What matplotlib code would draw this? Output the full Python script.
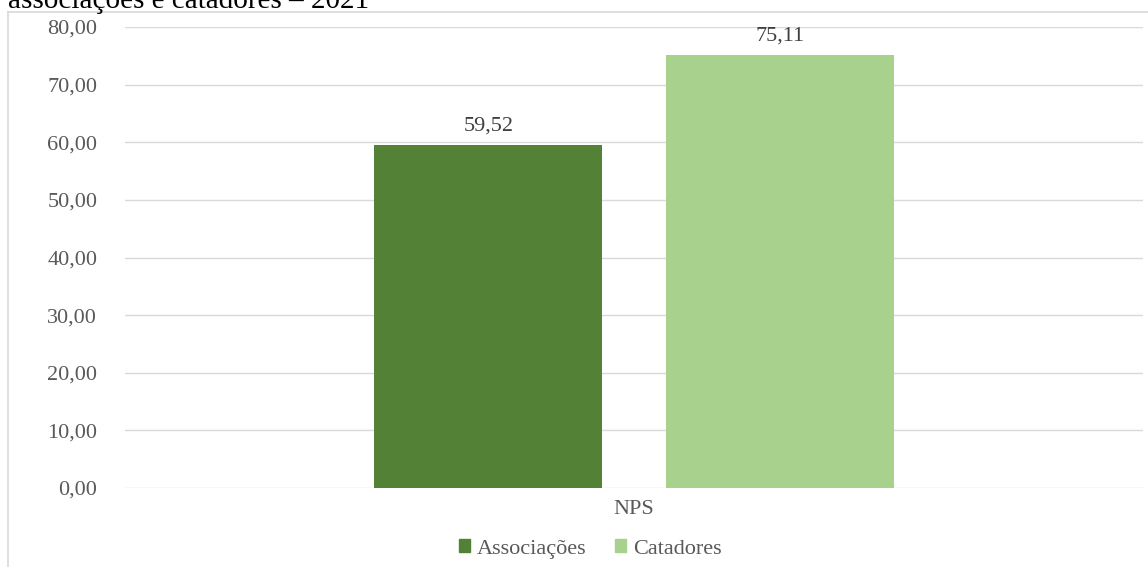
import matplotlib.pyplot as plt
from matplotlib.lines import Line2D
from matplotlib.patches import Patch

plt.rcParams['font.family'] = ['Liberation Serif', 'DejaVu Serif']

# NPS score per group
series = ['Associações', 'Catadores']
values = [59.52, 75.11]
colors = ['#538135', '#A9D18E']
category = 'NPS'
yticks = [0, 10, 20, 30, 40, 50, 60, 70, 80]

fig = plt.figure(figsize=(11.48, 5.67), dpi=100)
ax = fig.add_axes([125 / 1148, 79 / 567, 1018 / 1148, 461 / 567])

width = 0.224
offsets = [-0.143, 0.143]
for name, v, c, off in zip(series, values, colors, offsets):
    ax.bar(off, v, width=width, color=c, label=name, zorder=3)
    ax.text(off, v + 1.6, f'{v:.2f}'.replace('.', ','), ha='center', va='bottom',
            fontsize=16, color='#404040')

ax.set_xlim(-0.5, 0.5)
ax.set_ylim(0, 80)
ax.set_yticks(yticks)
ax.set_yticklabels([f'{t:.2f}'.replace('.', ',') for t in yticks],
                   fontsize=16, color='#595959')
ax.tick_params(axis='y', length=0, pad=20)
ax.set_xticks([0])
ax.set_xticklabels([category], fontsize=16, color='#595959')
ax.tick_params(axis='x', length=0, pad=9)
ax.grid(axis='y', color='#d9d9d9', linewidth=1, zorder=0)
for s in ax.spines.values():
    s.set_visible(False)

handles = [Patch(color=c) for c in colors]
fig.legend(handles, series, loc='center', bbox_to_anchor=(590 / 1148, 1 - 549 / 567),
           ncol=2, frameon=False, prop={'family': 'Liberation Serif', 'size': 16},
           handlelength=0.5, handleheight=0.5, handletextpad=0.3,
           columnspacing=1.3, labelcolor='#595959')

# chart frame, left and top edges
fig.add_artist(Line2D([8 / 1148, 8 / 1148], [0, 1 - 12 / 567], color='#d9d9d9',
                      linewidth=1.2, transform=fig.transFigure))
fig.add_artist(Line2D([8 / 1148, 1], [1 - 12 / 567, 1 - 12 / 567], color='#d9d9d9',
                      linewidth=1.2, transform=fig.transFigure))

# tail of the caption line above the chart
fig.text(8 / 1148, 1 - 8 / 567, 'associações e catadores – 2021', ha='left',
         va='baseline', fontsize=21, color='black')

fig.savefig('out.png', dpi=100)
